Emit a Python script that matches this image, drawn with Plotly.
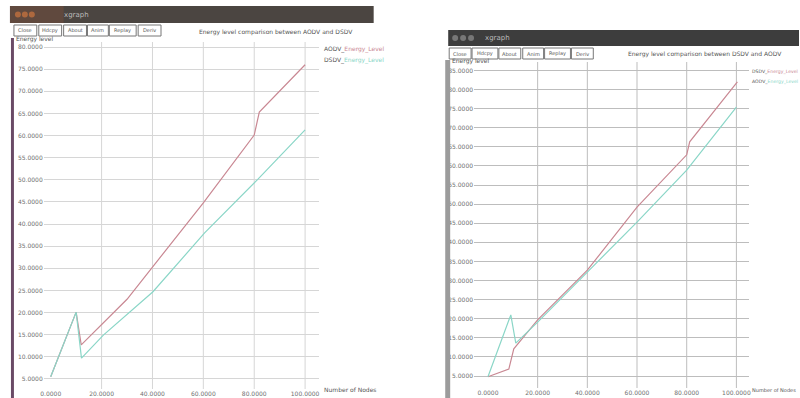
import plotly.graph_objects as go

W, H = 800, 398

# ---------------- data ----------------
left_title = "Energy level comparison between AODV and DSDV"
right_title = "Energy level comparison between DSDV and AODV"
left_names = ["AODV_Energy_Level", "DSDV_Energy_Level"]
right_names = ["DSDV_Energy_Level", "AODV_Energy_Level"]
buttons = ["Close", "Hdcpy", "About", "Anim", "Replay", "Deriv"]

x_ticks = [0, 20, 40, 60, 80, 100]
left_y_ticks = [5, 10, 15, 20, 25, 30, 35, 40, 45, 50, 55, 60, 65, 70, 75, 80]
right_y_ticks = [5, 10, 15, 20, 25, 30, 35, 40, 45, 50, 55, 60, 65, 70, 75, 80, 85]

left_red_x = [0, 10, 12, 30, 60, 80, 82, 100]
left_red_y = [5.5, 20.1, 12.7, 23.0, 44.8, 60.1, 65.3, 76.0]
left_cyan_x = [0, 10, 12.1, 20.7, 40.2, 60.5, 81.2, 100]
left_cyan_y = [5.5, 20.1, 9.7, 14.9, 24.7, 38.0, 50.0, 61.3]

right_red_x = [0, 8.4, 10.4, 20, 40, 60, 80, 81.2, 100.4]
right_red_y = [4.8, 6.8, 12.1, 19.7, 32.7, 49.2, 62.9, 66.3, 82.0]
right_cyan_x = [0, 9.2, 11.2, 20, 40, 60, 80, 100]
right_cyan_y = [4.8, 21.0, 13.6, 19.1, 32.2, 45.3, 58.9, 75.4]

# ---------------- helpers ----------------
def px(x):
    return x / W

def py(y):
    return 1 - y / H

RED = "#c98893"
CYAN = "#8ad6c7"
TXT = "#6f6f6f"
FONT = "DejaVu Sans"

fig = go.Figure()

fig.add_trace(go.Scatter(x=left_red_x, y=left_red_y, mode="lines",
                         line=dict(color=RED, width=1.2), xaxis="x", yaxis="y",
                         showlegend=False, name=left_names[0]))
fig.add_trace(go.Scatter(x=left_cyan_x, y=left_cyan_y, mode="lines",
                         line=dict(color=CYAN, width=1.2), xaxis="x", yaxis="y",
                         showlegend=False, name=left_names[1]))
fig.add_trace(go.Scatter(x=right_red_x, y=right_red_y, mode="lines",
                         line=dict(color=RED, width=1.2), xaxis="x2", yaxis="y2",
                         showlegend=False, name=right_names[0]))
fig.add_trace(go.Scatter(x=right_cyan_x, y=right_cyan_y, mode="lines",
                         line=dict(color=CYAN, width=1.2), xaxis="x2", yaxis="y2",
                         showlegend=False, name=right_names[1]))

def fmt(v):
    return "%.4f" % v

axis_common = dict(showline=False, zeroline=False, ticks="",
                   tickfont=dict(size=6, color=TXT, family=FONT))

fig.update_layout(
    width=W, height=H, margin=dict(l=0, r=0, t=0, b=0),
    paper_bgcolor="white", plot_bgcolor="white", showlegend=False,
    xaxis=dict(domain=[px(40), px(317)], range=[-2.73, 105.47],
               tickvals=x_ticks, ticktext=[fmt(v) for v in x_ticks],
               showgrid=False, anchor="y", **axis_common),
    yaxis=dict(domain=[py(389), py(42)], range=[2.73, 81.14],
               tickvals=left_y_ticks, ticktext=[fmt(v) for v in left_y_ticks],
               showgrid=True, gridcolor="#d6d6d6", gridwidth=1, anchor="x",
               **axis_common),
    xaxis2=dict(domain=[px(473), px(750)], range=[-5.6, 105.2],
                tickvals=x_ticks, ticktext=[fmt(v) for v in x_ticks],
                showgrid=False, anchor="y2", **axis_common),
    yaxis2=dict(domain=[py(388), py(62)], range=[1.86, 87.2],
                tickvals=right_y_ticks, ticktext=[fmt(v) for v in right_y_ticks],
                showgrid=True, gridcolor="#bdbdbd", gridwidth=1, anchor="x2",
                **axis_common),
)

shapes = []
# vertical grid lines (not at 0)
for v in x_ticks[1:]:
    shapes.append(dict(type="line", xref="x", yref="y domain", x0=v, x1=v, y0=0, y1=1,
                       line=dict(color="#d6d6d6", width=1), layer="below"))
    shapes.append(dict(type="line", xref="x2", yref="y2 domain", x0=v, x1=v, y0=0, y1=1,
                       line=dict(color="#bdbdbd", width=1), layer="below"))

# window title bars
shapes.append(dict(type="rect", xref="paper", yref="paper", x0=px(6), x1=px(372),
                   y0=py(23), y1=py(6), fillcolor="#4b4541", line=dict(width=0)))
shapes.append(dict(type="rect", xref="paper", yref="paper", x0=px(6), x1=px(60),
                   y0=py(23), y1=py(6), fillcolor="#6e4d3c", line=dict(width=0), opacity=0.6))
shapes.append(dict(type="rect", xref="paper", yref="paper", x0=px(447), x1=px(800),
                   y0=py(46), y1=py(30), fillcolor="#3d3d3d", line=dict(width=0)))
# window borders
shapes.append(dict(type="rect", xref="paper", yref="paper", x0=px(7), x1=px(10),
                   y0=0, y1=py(38), fillcolor="#6a4a66", line=dict(width=0)))
shapes.append(dict(type="rect", xref="paper", yref="paper", x0=px(444), x1=px(449),
                   y0=0, y1=py(60), fillcolor="#9c9c9c", line=dict(width=0)))

annotations = []

def text(x, y, s, size=6, color="#555", xanchor="left"):
    annotations.append(dict(x=px(x), y=py(y), xref="paper", yref="paper", text=s,
                            showarrow=False, xanchor=xanchor, yanchor="middle",
                            font=dict(size=size, color=color, family=FONT)))

# buttons
left_btn = [(10, 33), (35, 58), (60, 83), (84, 105), (106, 133), (135, 158)]
right_btn = [(448, 470), (471, 497), (498, 520), (522, 543), (544, 570), (571, 593)]
for (a, b), name in zip(left_btn, buttons):
    shapes.append(dict(type="rect", xref="paper", yref="paper", x0=px(a), x1=px(b),
                       y0=py(36), y1=py(25), fillcolor="white",
                       line=dict(color="#777", width=1)))
    text((a + b) / 2, 30.5, name, size=5, xanchor="center")
for (a, b), name in zip(right_btn, buttons):
    shapes.append(dict(type="rect", xref="paper", yref="paper", x0=px(a), x1=px(b),
                       y0=py(59), y1=py(48), fillcolor="white",
                       line=dict(color="#777", width=1)))
    text((a + b) / 2, 53.5, name, size=5, xanchor="center")

# window captions
text(58, 14.5, "xgraph", size=7, color="#bbbbbb")
text(482, 38, "xgraph", size=7, color="#bbbbbb")
for cx in (14, 21, 28):
    shapes.append(dict(type="circle", xref="paper", yref="paper",
                       x0=px(cx - 3), x1=px(cx + 3), y0=py(17.5), y1=py(11.5),
                       fillcolor="#c0703f", line=dict(width=0), opacity=0.8))
for cx in (454, 462, 470):
    shapes.append(dict(type="circle", xref="paper", yref="paper",
                       x0=px(cx - 3), x1=px(cx + 3), y0=py(41), y1=py(35),
                       fillcolor="#777777", line=dict(width=0)))

# titles
text(274, 32, left_title, xanchor="center")
text(705, 54, right_title, xanchor="center")
# axis labels
text(10, 39, "Energy level")
text(449, 61, "Energy level")
text(320, 389, "Number of Nodes")
text(751, 390, "Number of Nodes", size=5)

# legends (xgraph style)
def legend(x, y, name, color, size=6):
    head, tail = name.split("_", 1)
    text(x, y, head + "_<span style='color:%s'>%s</span>" % (color, tail), size=size)

legend(320, 49, left_names[0], RED)
legend(320, 60, left_names[1], CYAN)
legend(751, 72, right_names[0], RED, size=4.6)
legend(751, 82, right_names[1], CYAN, size=4.6)

# cover for left window right edge (clip legends)
shapes.append(dict(type="rect", xref="paper", yref="paper", x0=px(373), x1=px(440),
                   y0=py(398), y1=py(24), fillcolor="white", line=dict(width=0), layer="above"))

fig.update_layout(shapes=shapes, annotations=annotations)
fig.write_html("out.html")
